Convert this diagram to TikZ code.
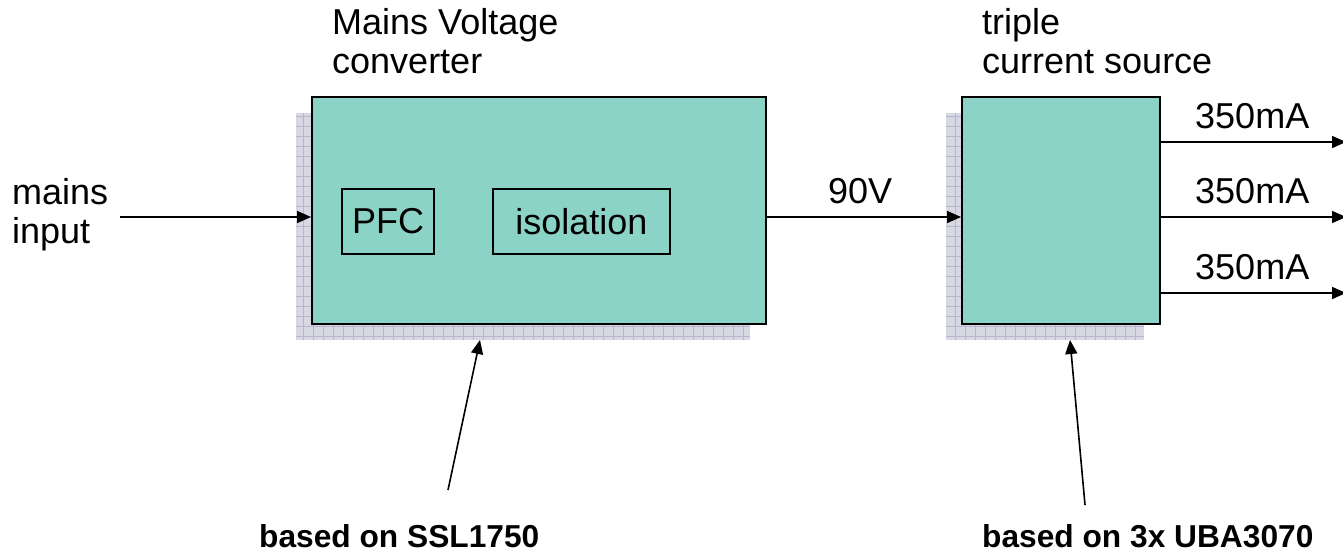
\documentclass[tikz,border=0pt]{standalone}
\usepackage{fontspec}
\setmainfont{Liberation Sans}
\usetikzlibrary{arrows.meta}
\definecolor{boxfill}{RGB}{140,211,199}
\definecolor{shfill}{RGB}{216,216,228}
\definecolor{shgrid}{RGB}{182,182,204}
\tikzset{
  blk/.style={draw=black, line width=2pt, fill=boxfill, minimum height=227pt, inner sep=0pt},
  sub/.style={draw=black, line width=1.5pt, minimum height=65pt, inner sep=0pt, font=\fontsize{36}{43}\selectfont},
  shad/.style={fill=shfill, minimum height=227pt, inner sep=0pt,
    path picture={\draw[shgrid, line width=0.7pt, step=10pt] (path picture bounding box.south west) grid (path picture bounding box.north east);}},
  lbl/.style={anchor=base west, inner sep=0pt, font=\fontsize{36}{43}\selectfont},
  blbl/.style={anchor=base west, inner sep=0pt, font=\fontsize{31.7}{38}\selectfont\bfseries},
  arr/.style={line width=1.6pt, -{Triangle[length=14pt,width=12pt]}},
}
\begin{document}
\begin{tikzpicture}[x=1pt,y=-1pt]
\useasboundingbox (0,0) rectangle (1343,552);
% shadows
\node[shad, minimum width=454pt] (s1) at (523,226.5) {};
\node[shad, minimum width=198pt] (s2) at (1045,226.5) {};
% main blocks
\node[blk, minimum width=454pt] (b1) at (539,210.5) {};
\node[blk, minimum width=198pt] (b2) at (1061,210.5) {};
\node[sub, minimum width=92pt] (pfc) at (388,221.5) {PFC};
\node[sub, minimum width=177pt] (iso) at (581.5,221.5) {isolation};
% titles
\node[lbl] (t1a) at (332,34) {Mains Voltage};
\node[lbl] (t1b) at (332,73) {converter};
\node[lbl] (t2a) at (982,34) {triple};
\node[lbl] (t2b) at (982,73) {current source};
% input
\node[lbl] (mi1) at (12,204) {mains};
\node[lbl] (mi2) at (12,243) {input};
\coordinate (in) at (120,217);
\draw[arr] (in) -- (in -| b1.west);
% 90V
\coordinate (o1) at (766,217);
\draw[arr] (o1 -| b1.east) -- (o1 -| b2.west);
\node[lbl] (v90) at (828,203) {90V};
% outputs
\coordinate (e1) at (1346,142);
\coordinate (e2) at (1346,217);
\coordinate (e3) at (1346,293);
\draw[arr] (e1 -| b2.east) -- (e1);
\draw[arr] (e2 -| b2.east) -- (e2);
\draw[arr] (e3 -| b2.east) -- (e3);
\node[lbl] (c1) at (1195,128) {350mA};
\node[lbl] (c2) at (1195,203) {350mA};
\node[lbl] (c3) at (1195,279) {350mA};
% leaders
\coordinate (l1s) at (448,490);
\coordinate (l1e) at (480,340);
\coordinate (l2s) at (1085,505);
\coordinate (l2e) at (1070,340);
\draw[arr] (l1s) -- (l1e);
\draw[arr] (l2s) -- (l2e);
\node[blbl] (n1) at (259,547) {based on SSL1750};
\node[blbl] (n2) at (982,547) {based on 3x UBA3070};
\end{tikzpicture}
\end{document}
